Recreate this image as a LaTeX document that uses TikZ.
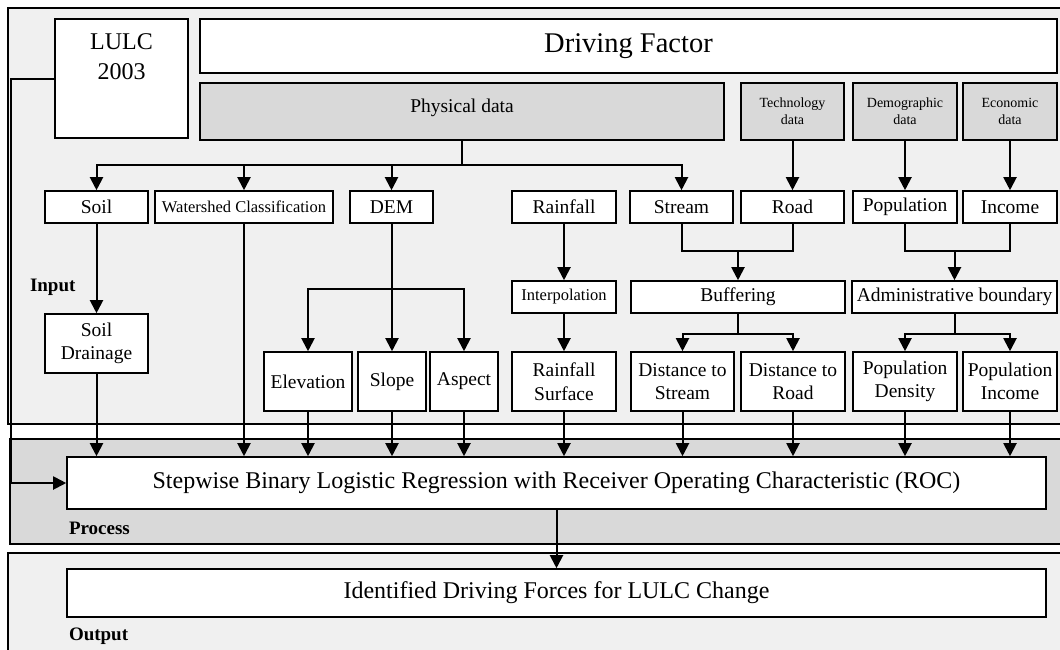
\documentclass[tikz,border=0pt]{standalone}
\usepackage{fontspec}
\setmainfont{Liberation Serif}
\usetikzlibrary{arrows.meta}
\definecolor{panellight}{HTML}{F0F0F0}
\definecolor{paneldark}{HTML}{D9D9D9}

\begin{document}
\begin{tikzpicture}[x=1pt,y=-1pt,>={Triangle[length=13pt,width=13pt]},line width=2pt,
                    box/.style={draw,fill=white,line width=1.6pt,inner sep=0pt,minimum height=32pt,
                                align=center,font=\fontsize{19.5}{23.5}\selectfont},
                    tallbox/.style={box,minimum height=59pt},
                    databox/.style={box,fill=paneldark,minimum height=57pt},
                    smalltext/.style={font=\fontsize{16.5}{20}\selectfont},
                    panellabel/.style={anchor=west,inner sep=0pt,font=\fontsize{19}{22}\selectfont\bfseries}]
                    \useasboundingbox (0,0) rectangle (1060,649);

                    % panels
                    \draw[line width=1.6pt,fill=panellight] (8,8) rectangle (1075,424);
                    \draw[line width=1.6pt,fill=paneldark] (10,439) rectangle (1075,544);
                    \draw[line width=1.6pt,fill=panellight] (8,553) rectangle (1075,665);

                    \node[panellabel] (inputlbl) at (29,287) {Input};
                    \node[panellabel] (processlbl) at (68,528) {Process};
                    \node[panellabel] (outputlbl) at (68,636) {Output};

                    % top row
                    \node[box,minimum width=133pt,minimum height=119pt,
                          label={[anchor=north,yshift=-14pt,inner sep=0pt,align=center,
                                  font=\fontsize{24}{30}\selectfont]north:LULC\\2003}] (lulc) at (121.5,78.5) {};
                    \node[box,minimum width=857pt,minimum height=54pt,
                          font=\fontsize{28.5}{32}\selectfont] (driving) at (628.5,46) {Driving Factor};
                    \node[databox,minimum width=524pt,text depth=12pt] (phys) at (462,111.5) {Physical data};
                    \node[databox,minimum width=103pt,font=\fontsize{14}{17}\selectfont] (tech) at (792.5,111.5) {Technology\\data};
                    \node[databox,minimum width=104pt,font=\fontsize{14}{17}\selectfont] (demo) at (905,111.5) {Demographic\\data};
                    \node[databox,minimum width=94pt,font=\fontsize{14}{17}\selectfont] (econ) at (1010,111.5) {Economic\\data};

                    % second row
                    \node[box,minimum width=103pt] (soil) at (96.5,207) {Soil};
                    \node[box,smalltext,minimum width=178pt] (ws) at (244,207) {Watershed Classification};
                    \node[box,minimum width=83pt] (dem) at (391.5,207) {DEM};
                    \node[box,minimum width=104pt] (rain) at (564,207) {Rainfall};
                    \node[box,minimum width=103pt] (stream) at (681.5,207) {Stream};
                    \node[box,minimum width=103pt] (road) at (792.5,207) {Road};
                    \node[box,minimum width=104pt] (pop) at (905,207) {Population};
                    \node[box,minimum width=94pt] (income) at (1010,207) {Income};

                    % third row
                    \node[box,smalltext,minimum width=104pt] (interp) at (564,297) {Interpolation};
                    \node[box,minimum width=214pt] (buf) at (738,297) {Buffering};
                    \node[box,minimum width=205pt] (admin) at (954.5,297) {Administrative boundary};
                    \node[tallbox,minimum width=103pt] (soildrain) at (96.5,343.5) {Soil\\Drainage};

                    % fourth row
                    \node[tallbox,minimum width=88pt] (elev) at (308,381.5) {Elevation};
                    \node[tallbox,minimum width=68pt] (slope) at (392,381.5) {Slope};
                    \node[tallbox,minimum width=68pt] (aspect) at (464,381.5) {Aspect};
                    \node[tallbox,minimum width=104pt] (rainsurf) at (564,381.5) {Rainfall\\Surface};
                    \node[tallbox,minimum width=103pt] (dstream) at (682.5,381.5) {Distance to\\Stream};
                    \node[tallbox,minimum width=104pt] (droad) at (793,381.5) {Distance to\\Road};
                    \node[tallbox,minimum width=104pt] (popden) at (905,381.5) {Population\\Density};
                    \node[tallbox,minimum width=94pt] (popinc) at (1010,381.5) {Population\\Income};

                    % process and output
                    \node[box,minimum width=979pt,minimum height=52pt,font=\fontsize{24}{28}\selectfont] (roc) at (556.5,483)
                        {Stepwise Binary Logistic Regression with Receiver Operating Characteristic (ROC)};
                    \node[box,minimum width=979pt,minimum height=48pt,font=\fontsize{24}{28}\selectfont] (ident) at (556.5,593)
                        {Identified Driving Forces for LULC Change};

                    \coordinate (srjoin) at (738,251);
                    \coordinate (pijoin) at (954.5,251);

                    \draw [->] (phys.south) -- ++(0,24) -| (soil.north);
                    \draw [->] (phys.south) -- ++(0,24) -| (ws.north);
                    \draw [->] (phys.south) -- ++(0,24) -| (dem.north);
                    \draw [->] (phys.south) -- ++(0,24) -| (stream.north);

                    \draw [->] (tech) -- (road);
                    \draw [->] (demo) -- (pop);
                    \draw [->] (econ) -- (income);

                    \draw [->] (soil) -- (soildrain);

                    \draw [->] (dem.south) -- ++(0,65) -| (elev.north);
                    \draw [->] (dem.south) -- ++(0,65) -| (slope.north);
                    \draw [->] (dem.south) -- ++(0,65) -| (aspect.north);

                    \draw [->] (rain) -- (interp);
                    \draw [->] (interp) -- (rainsurf);

                    \draw (stream.south) |- (srjoin) -| (road.south);
                    \draw [->] (srjoin) -- (buf);
                    \draw [->] (buf.south) -- ++(0,20) -| (dstream.north);
                    \draw [->] (buf.south) -- ++(0,20) -| (droad.north);

                    \draw (pop.south) |- (pijoin) -| (income.south);
                    \draw [->] (pijoin) -- (admin);
                    \draw [->] (admin.south) -- ++(0,20) -| (popden.north);
                    \draw [->] (admin.south) -- ++(0,20) -| (popinc.north);

                    \draw [->] (soildrain.south) -- (soildrain.south |- roc.north);
                    \draw [->] (ws.south) -- (ws.south |- roc.north);
                    \draw [->] (elev.south) -- (elev.south |- roc.north);
                    \draw [->] (slope.south) -- (slope.south |- roc.north);
                    \draw [->] (aspect.south) -- (aspect.south |- roc.north);
                    \draw [->] (rainsurf.south) -- (rainsurf.south |- roc.north);
                    \draw [->] (dstream.south) -- (dstream.south |- roc.north);
                    \draw [->] (droad.south) -- (droad.south |- roc.north);
                    \draw [->] (popden.south) -- (popden.south |- roc.north);
                    \draw [->] (popinc.south) -- (popinc.south |- roc.north);

                    \draw [->] (lulc.west) -- ++(-43,0) |- (roc.west);
                    \draw [->] (roc) -- (ident);

                \end{tikzpicture}
\end{document}
